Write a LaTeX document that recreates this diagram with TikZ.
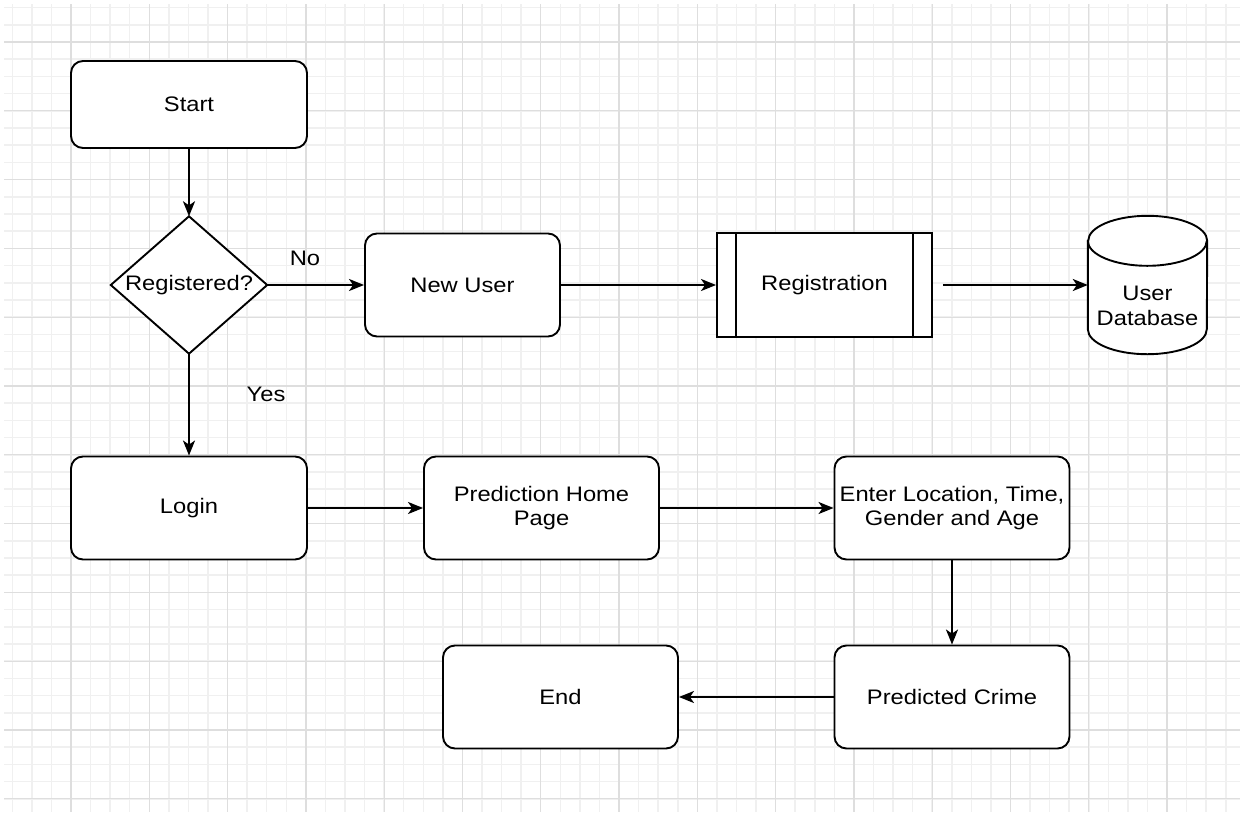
\documentclass[tikz,border=0pt]{standalone}
\usepackage{fontspec}
\setmainfont{Liberation Sans}[FakeStretch=1.13]
\usetikzlibrary{arrows.meta,shapes.geometric}
\definecolor{gridminor}{RGB}{240,240,240}
\definecolor{gridmajor}{RGB}{222,222,222}
\begin{document}
\begin{tikzpicture}[x=1pt,y=1pt,
  every node/.style={font=\fontsize{21pt}{24.5pt}\selectfont, text=black, align=center},
  outline/.style={draw=black, line width=1.9pt, fill=white, inner sep=0pt},
  box/.style={outline, rounded corners=12pt, minimum width=#1, minimum height=103pt},
  proc/.style={outline, minimum width=215pt, minimum height=104pt},
  decisionbox/.style={inner sep=0pt, minimum width=156pt, minimum height=137pt},
  dbbox/.style={inner sep=0pt, minimum width=119pt, minimum height=138pt},
  conn/.style={line width=1.9pt, -{Stealth[length=15pt,width=12pt,inset=4pt]}},
  gminor/.style={draw=gridminor, line width=1.5pt},
  gmajor/.style={draw=gridmajor, line width=1.3pt}
]
\useasboundingbox (0,0) rectangle (1240,-812);
\fill[white] (0,0) rectangle (1240,-812);

% background grid
\foreach \i in {0,...,62} {
  \draw[gminor] ({12.28+\i*19.5725},-4) -- ({12.28+\i*19.5725},-812);
}
\foreach \j in {0,...,46} {
  \draw[gminor] (4,{-7.6-\j*17.2}) -- (1240,{-7.6-\j*17.2});
}
\foreach \i in {0,...,14} {
  \draw[gmajor] ({71+\i*78.29},-4) -- ({71+\i*78.29},-812);
}
\foreach \j in {0,...,11} {
  \draw[gmajor] (4,{-42-\j*68.8}) -- (1240,{-42-\j*68.8});
}

% flow steps
\node[box=236pt, minimum height=87pt] (start) at (189,-104.5) {Start};

% decision diamond
\node[decisionbox] (reg) at (189,-285) {};
\path[draw=black, fill=white, line width=1.9pt]
  (reg.north) -- (reg.east) -- (reg.south) -- (reg.west) -- cycle;
\node (regtext) at (reg.center) {Registered?};

\node[box=195pt] (newuser) at (462.5,-285) {New User};
\node[proc] (regist) at (824.5,-285) {Registration};
\draw[line width=1.9pt] ([xshift=20pt]regist.north west) -- ([xshift=20pt]regist.south west);
\draw[line width=1.9pt] ([xshift=-20pt]regist.north east) -- ([xshift=-20pt]regist.south east);

% user database cylinder
\node[dbbox] (db) at (1147.5,-285) {};
\path[draw=black, fill=white, line width=1.9pt]
  ([yshift=-25pt]db.north west) -- ([yshift=25pt]db.south west)
  arc[start angle=180, end angle=360, x radius=59.5pt, y radius=25pt]
  -- ([yshift=-25pt]db.north east)
  arc[start angle=0, end angle=180, x radius=59.5pt, y radius=25pt] -- cycle;
\draw[line width=1.9pt] ([yshift=-25pt]db.north west)
  arc[start angle=180, end angle=360, x radius=59.5pt, y radius=25pt];
\node (dbtext) at ([yshift=-21pt]db.center) {User\\Database};

\node[box=236pt] (login) at (189,-508) {Login};
\node[box=235pt] (home) at (541.5,-508) {Prediction Home\\Page};
\node[box=235pt] (enter) at (952,-508) {Enter Location, Time,\\Gender and Age};
\node[box=235pt] (crime) at (952,-697) {Predicted Crime};
\node[box=235pt] (end) at (560.5,-697) {End};

% connectors
\draw[conn] (start.south) -- (reg.north);
\draw[conn] (reg.east) -- node[pos=0.39, yshift=27pt] {No} (newuser.west);
\draw[conn] (newuser.east) -- (regist.west);
\draw[conn] ([xshift=10pt]regist.east) -- (db.west);
\draw[conn] (reg.south) -- node[pos=0.4, xshift=77pt] {Yes} (login.north);
\draw[conn] (login.east) -- (home.west);
\draw[conn] (home.east) -- (enter.west);
\draw[conn] (enter.south) -- (crime.north);
\draw[conn] (crime.west) -- (end.east);
\end{tikzpicture}
\end{document}
